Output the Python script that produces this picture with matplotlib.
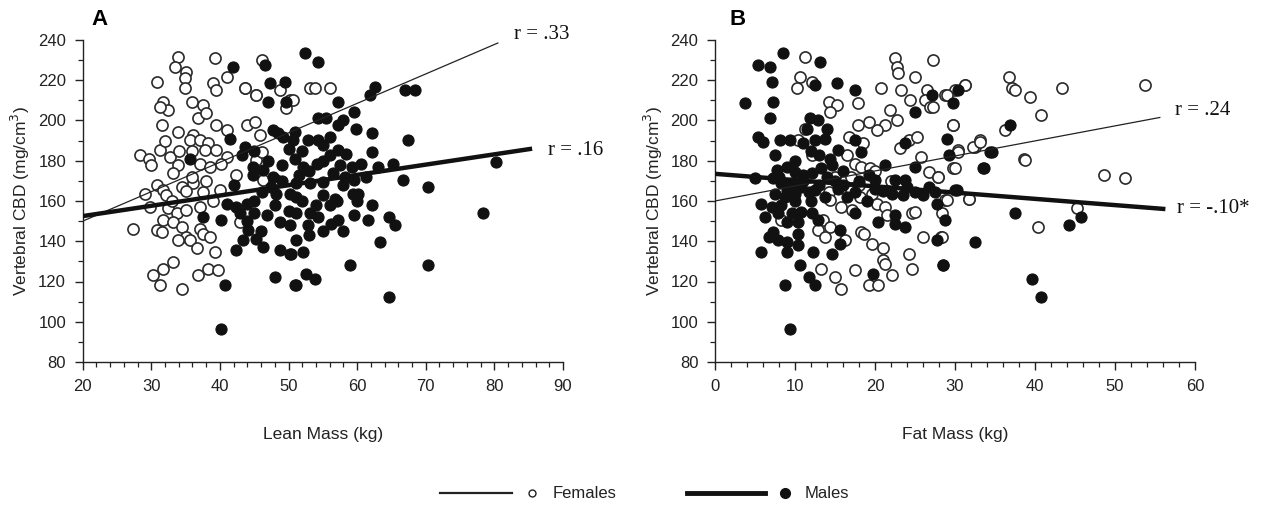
import numpy as np
import matplotlib
matplotlib.use('Agg')
import matplotlib.pyplot as plt
from matplotlib.ticker import MultipleLocator
from matplotlib.lines import Line2D

# ---- panel A: lean mass vs vertebral CBD ----
fem_a = [
    (33.9, 231.7), (33.4, 226.7), (35.1, 224.2), (34.9, 221.0), (39.3, 230.9), (46.1, 230.0),
    (30.8, 219.3), (34.9, 216.0), (39.0, 218.4), (39.5, 215.1), (41.0, 221.8), (43.6, 216.0),
    (45.3, 212.6), (35.9, 209.3), (37.6, 207.7), (31.7, 209.3), (32.5, 205.2), (31.3, 206.8),
    (31.5, 197.7), (33.9, 194.4), (36.8, 201.0), (38.0, 203.5), (39.5, 197.7), (41.0, 195.2),
    (43.9, 197.7), (45.1, 199.4), (45.8, 192.7), (36.1, 192.7), (35.6, 190.2), (37.1, 190.2),
    (38.3, 188.6), (37.8, 185.3), (39.5, 185.3), (41.0, 182.0), (28.3, 182.8), (29.6, 181.1),
    (31.3, 185.3), (32.7, 182.0), (33.9, 177.8), (33.2, 173.7), (37.1, 178.6), (38.5, 177.0),
    (40.2, 178.6), (42.4, 172.8), (45.3, 180.3), (46.1, 184.4), (30.8, 167.9), (31.7, 165.4),
    (29.1, 163.7), (32.2, 162.9), (34.4, 167.0), (36.1, 168.7), (37.6, 164.5), (40.0, 165.4),
    (29.8, 157.1), (32.5, 156.3), (33.7, 153.8), (35.1, 155.4), (37.1, 157.1), (31.7, 150.4),
    (33.2, 149.6), (34.4, 147.1), (35.1, 142.2), (27.4, 146.3), (30.8, 145.5), (31.5, 144.6),
    (37.1, 146.3), (37.6, 143.8), (38.5, 142.2), (33.9, 140.5), (35.6, 140.5), (36.6, 136.4),
    (39.3, 134.7), (33.2, 129.7), (31.7, 126.4), (30.3, 123.1), (31.3, 118.1), (34.4, 116.5),
    (36.8, 123.1), (38.3, 126.4), (39.7, 125.6), (42.9, 149.6), (46.3, 170.3), (48.2, 170.3),
    (48.7, 215.0), (50.2, 210.0), (49.7, 206.0), (53.1, 216.0), (53.8, 216.0), (56.0, 216.0),
    (50.6, 210.0), (43.6, 216.0), (45.3, 212.6), (33.0, 160.0), (35.0, 165.0), (36.0, 172.0),
    (38.0, 170.0), (39.0, 160.0), (34.0, 185.0), (36.0, 185.0), (32.0, 190.0), (30.0, 178.0),
]
male_a = [
    (41.9, 226.7), (46.5, 227.6), (47.3, 218.4), (49.5, 219.3), (47.0, 209.3), (49.7, 209.3),
    (41.5, 191.0), (47.8, 195.2), (49.2, 192.0), (50.7, 190.2), (43.6, 187.0), (43.2, 182.8),
    (35.6, 181.1), (44.8, 177.0), (46.3, 175.3), (44.8, 172.8), (47.8, 172.0), (42.0, 167.9),
    (46.1, 164.5), (48.2, 163.7), (50.2, 163.7), (41.0, 158.7), (42.4, 157.1), (43.9, 158.7),
    (42.9, 153.8), (44.9, 153.8), (46.8, 153.0), (37.6, 152.1), (40.2, 150.4), (48.7, 149.6),
    (50.2, 148.0), (44.1, 145.5), (43.4, 140.5), (45.3, 141.3), (46.3, 137.2), (42.4, 135.5),
    (48.7, 135.5), (50.2, 133.9), (48.0, 122.3), (40.7, 118.1), (50.9, 118.1), (40.2, 96.5),
    (52.4, 233.4), (54.3, 229.2), (62.6, 216.8), (61.8, 212.6), (66.9, 215.1), (68.4, 215.1),
    (57.2, 209.3), (59.6, 204.3), (54.3, 201.0), (55.5, 201.0), (58.0, 200.2), (57.2, 197.7),
    (59.9, 196.0), (62.1, 193.6), (67.4, 190.2), (50.9, 194.4), (52.8, 190.2), (54.3, 190.2),
    (56.0, 191.9), (55.0, 187.8), (57.2, 185.3), (58.4, 183.6), (62.1, 184.4), (50.9, 181.1),
    (52.1, 177.0), (54.1, 178.6), (57.5, 177.8), (59.2, 177.0), (60.6, 178.6), (63.0, 177.0),
    (65.2, 178.6), (56.5, 173.7), (58.2, 172.0), (59.6, 170.3), (61.3, 172.0), (66.7, 170.3),
    (70.3, 167.0), (80.3, 179.5), (51.1, 168.7), (53.1, 168.7), (55.0, 169.5), (58.0, 167.9),
    (55.0, 162.9), (56.7, 161.2), (59.4, 163.7), (60.1, 163.7), (51.1, 162.1), (62.1, 157.9),
    (56.0, 157.9), (59.6, 152.9), (61.6, 150.4), (64.7, 152.1), (65.5, 148.0), (56.2, 148.8),
    (57.2, 150.4), (53.1, 153.8), (54.3, 152.1), (51.1, 153.8), (52.8, 148.0), (78.3, 153.8),
    (63.3, 139.7), (51.1, 140.5), (52.1, 134.7), (50.4, 133.9), (58.9, 128.1), (70.3, 128.1),
    (52.6, 123.9), (53.8, 121.4), (51.1, 118.1), (64.7, 112.3), (48.5, 194.0), (50.0, 186.0),
    (49.0, 178.0), (51.5, 173.0), (47.5, 167.0), (45.0, 185.0), (47.0, 180.0), (52.0, 185.0),
    (53.0, 175.0), (55.0, 180.0), (56.0, 183.0), (49.0, 170.0), (52.0, 160.0), (54.0, 158.0),
    (57.0, 160.0), (60.0, 160.0), (48.0, 158.0), (50.0, 155.0), (45.0, 160.0), (46.0, 145.0),
    (44.0, 150.0), (53.0, 143.0), (55.0, 145.0), (58.0, 145.0),
]

# ---- panel B: fat mass vs vertebral CBD ----
fem_b = [
    (11.25, 231.7), (10.6, 221.8), (10.2, 216.0), (12.1, 219.3), (14.2, 209.3), (15.2, 207.7),
    (14.4, 204.3), (17.9, 208.5), (20.8, 216.0), (22.5, 230.9), (22.7, 226.7), (22.9, 223.4),
    (25.0, 221.8), (27.3, 230.0), (23.3, 215.1), (24.4, 210.1), (26.5, 215.1), (26.25, 210.1),
    (26.9, 206.8), (28.75, 212.6), (31.25, 217.6), (30.0, 215.1), (21.9, 205.2), (22.7, 200.2),
    (21.25, 197.7), (20.2, 195.2), (19.2, 199.4), (17.9, 197.7), (16.7, 191.9), (18.5, 188.6),
    (11.25, 196.0), (10.4, 190.2), (12.1, 182.8), (16.5, 182.8), (17.5, 178.6), (18.3, 177.0),
    (19.4, 176.2), (23.1, 186.1), (24.2, 190.2), (25.2, 191.9), (25.8, 182.0), (29.8, 197.7),
    (30.4, 185.3), (32.5, 186.9), (33.1, 190.2), (26.7, 174.5), (27.9, 172.0), (29.8, 176.2),
    (31.7, 161.2), (28.75, 160.4), (14.2, 164.5), (14.4, 160.4), (18.1, 162.1), (19.6, 163.7),
    (20.2, 158.7), (21.25, 157.1), (21.5, 152.9), (24.6, 153.8), (25.0, 154.6), (15.8, 157.1),
    (17.1, 155.4), (13.5, 150.4), (14.4, 147.1), (12.9, 145.5), (13.75, 142.2), (16.25, 140.5),
    (18.3, 144.6), (19.6, 138.8), (21.0, 136.4), (24.2, 133.9), (26.0, 142.2), (28.3, 142.2),
    (21.0, 130.6), (17.5, 125.6), (22.1, 123.1), (19.2, 118.1), (20.4, 118.1), (15.8, 116.5),
    (15.0, 122.3), (13.3, 126.4), (24.6, 126.4), (8.3, 150.4), (21.2, 128.5), (18.6, 143.5),
    (36.7, 221.8), (37.1, 216.0), (37.5, 215.1), (31.3, 217.6), (29.0, 212.6), (27.3, 206.8),
    (39.4, 211.8), (43.4, 216.0), (53.8, 217.6), (40.7, 202.7), (29.8, 197.7), (36.3, 195.2),
    (32.3, 186.9), (33.1, 189.4), (30.4, 184.4), (38.6, 181.1), (38.8, 180.3), (30.0, 176.2),
    (27.9, 172.0), (48.6, 172.8), (51.3, 171.2), (29.0, 160.4), (31.7, 161.2), (28.4, 153.8),
    (45.2, 156.3), (40.4, 147.1), (28.4, 142.2), (16.0, 170.0), (17.0, 172.0), (18.0, 168.0),
    (20.0, 175.0), (22.0, 170.0), (15.0, 172.0), (17.0, 165.0),
]
male_b = [
    (8.5, 233.4), (5.4, 227.6), (6.9, 226.7), (13.1, 229.2), (7.1, 219.3), (3.75, 208.5),
    (7.3, 209.3), (6.9, 201.0), (5.4, 191.9), (6.0, 189.4), (8.1, 190.2), (9.4, 190.2),
    (12.5, 217.6), (15.2, 218.4), (17.5, 215.1), (11.9, 201.0), (12.9, 200.2), (11.5, 196.0),
    (14.0, 196.0), (11.0, 188.6), (12.5, 190.2), (13.75, 191.0), (15.4, 185.3), (14.4, 181.1),
    (7.5, 182.8), (17.5, 190.2), (18.3, 184.4), (7.7, 175.3), (9.0, 177.0), (10.0, 174.5),
    (11.0, 172.8), (12.1, 173.7), (13.3, 176.2), (14.6, 177.8), (5.0, 171.2), (7.3, 171.2),
    (8.3, 168.7), (9.6, 168.7), (10.8, 167.0), (12.5, 165.4), (7.5, 163.7), (8.75, 162.1),
    (10.0, 163.7), (11.7, 164.5), (13.75, 162.1), (15.4, 166.2), (16.5, 162.1), (17.5, 164.5),
    (5.8, 158.7), (7.1, 157.1), (8.3, 157.9), (6.25, 152.1), (7.9, 153.8), (9.6, 153.8),
    (10.8, 154.6), (12.1, 153.8), (9.0, 149.6), (10.4, 149.6), (12.9, 150.4), (7.3, 144.6),
    (7.9, 140.5), (6.7, 142.2), (9.0, 139.7), (10.4, 143.8), (5.8, 134.7), (9.0, 134.7),
    (10.4, 138.0), (12.3, 134.7), (14.6, 133.9), (15.6, 138.8), (15.6, 145.5), (17.5, 153.8),
    (19.2, 172.8), (20.0, 170.3), (21.25, 177.8), (22.5, 170.3), (23.75, 170.3), (25.0, 177.0),
    (22.1, 163.7), (23.5, 162.9), (25.0, 164.5), (26.7, 167.0), (27.5, 164.5), (27.7, 158.7),
    (20.4, 149.6), (22.5, 152.9), (22.5, 148.8), (23.75, 147.1), (28.75, 150.4), (23.75, 188.6),
    (25.0, 204.3), (27.1, 212.6), (29.8, 208.5), (30.4, 215.1), (29.0, 191.0), (29.2, 182.8),
    (33.5, 176.2), (34.4, 184.4), (27.7, 140.5), (32.5, 139.7), (28.5, 128.1), (19.8, 123.9),
    (10.6, 128.1), (11.7, 122.3), (12.5, 118.1), (8.75, 118.1), (9.4, 96.5), (30.0, 165.4),
    (36.9, 197.7), (34.6, 184.4), (33.6, 176.2), (30.2, 165.4), (44.2, 148.0), (45.7, 152.1),
    (39.6, 121.0), (40.8, 112.3), (28.5, 128.0), (37.5, 153.8), (9.0, 165.0), (10.0, 160.0),
    (11.0, 170.0), (12.0, 160.0), (13.0, 168.0), (14.0, 172.0), (15.0, 170.0), (16.0, 168.0),
    (8.0, 172.0), (10.0, 180.0), (12.0, 185.0), (13.0, 183.0), (16.0, 175.0), (18.0, 170.0),
    (20.0, 166.0), (24.0, 167.0), (26.0, 163.0), (19.0, 160.0), (21.0, 165.0),
]

# regression lines (end points)
fem_line_a = ([20, 80.5], [150.0, 238.5])
male_line_a = ([20, 85.5], [152.5, 186.0])
fem_line_b = ([0, 55.6], [160.0, 201.5])
male_line_b = ([0, 56.3], [173.5, 156.0])
r_labels_a = ['r = .33', 'r = .16']
r_labels_b = ['r = .24', 'r = -.10*']

plt.rcParams['font.family'] = ['Liberation Sans', 'DejaVu Sans']

fig = plt.figure(figsize=(12.65, 5.08), dpi=100)
ax_a = fig.add_axes([82.7 / 1265, 1 - 362 / 508, 480.3 / 1265, 322 / 508])
ax_b = fig.add_axes([715 / 1265, 1 - 362 / 508, 480 / 1265, 322 / 508])

MS = 64


def draw_panel(ax, fem, male, fline, mline, labels, lab_pos, xlim, xlabel, letter, letter_pos):
    fx, fy = np.array(fem).T
    mx, my = np.array(male).T
    ax.scatter(fx, fy, s=MS, facecolors='white', edgecolors='#2a2a2a', linewidths=1.2, zorder=2)
    ax.scatter(mx, my, s=MS, facecolors='#111111', edgecolors='#111111', linewidths=0.8, zorder=3)
    ax.plot(*fline, color='#222222', lw=0.9, zorder=4)
    ax.plot(*mline, color='#111111', lw=3.2, solid_capstyle='butt', zorder=4)
    for txt, (tx, ty) in zip(labels, lab_pos):
        ax.text(tx, ty, txt, family=['Liberation Serif', 'DejaVu Serif'], fontsize=15,
                ha='left', va='center', color='#111111', clip_on=False)
    ax.text(*letter_pos, letter, fontsize=16, fontweight='bold', ha='left', va='center', clip_on=False)

    ax.set_xlim(*xlim)
    ax.set_ylim(80, 240)
    ax.xaxis.set_major_locator(MultipleLocator(10))
    ax.xaxis.set_minor_locator(MultipleLocator(2))
    ax.yaxis.set_major_locator(MultipleLocator(20))
    ax.yaxis.set_minor_locator(MultipleLocator(10))
    for s in ['top', 'right']:
        ax.spines[s].set_visible(False)
    for s in ['left', 'bottom']:
        ax.spines[s].set_linewidth(1.0)
        ax.spines[s].set_color('#222222')
    ax.tick_params(which='major', direction='out', length=6, width=1.0, labelsize=12, colors='#222222', pad=6)
    ax.tick_params(which='minor', direction='out', length=3.5, width=0.9, colors='#222222')
    ax.set_xlabel(xlabel, fontsize=12.5, labelpad=24, color='#222222')
    ax.set_ylabel('Vertebral CBD (mg/cm$^3$)', fontsize=12.5, labelpad=4, color='#222222')


draw_panel(ax_a, fem_a, male_a, fem_line_a, male_line_a, r_labels_a,
           [(82.9, 242.5), (87.8, 185.3)], (20, 90), 'Lean Mass (kg)', 'A', (21.3, 250))
draw_panel(ax_b, fem_b, male_b, fem_line_b, male_line_b, r_labels_b,
           [(57.5, 205.2), (57.75, 156.4)], (0, 60), 'Fat Mass (kg)', 'B', (1.8, 250))

# legend drawn below both panels
ly = 1 - 493 / 508
fig.add_artist(Line2D([440 / 1265, 512 / 1265], [ly, ly], color='#222222', lw=1.6))
fig.add_artist(Line2D([532 / 1265], [ly], marker='o', ms=5, mfc='white', mec='#222222', mew=1.0))
fig.text(553 / 1265, ly, 'Females', fontsize=12, va='center', ha='left', color='#222222')
fig.add_artist(Line2D([687 / 1265, 765 / 1265], [ly, ly], color='#111111', lw=3.5))
fig.add_artist(Line2D([785 / 1265], [ly], marker='o', ms=7, mfc='#111111', mec='#111111'))
fig.text(805 / 1265, ly, 'Males', fontsize=12, va='center', ha='left', color='#222222')

plt.savefig('out.png', dpi=100)
